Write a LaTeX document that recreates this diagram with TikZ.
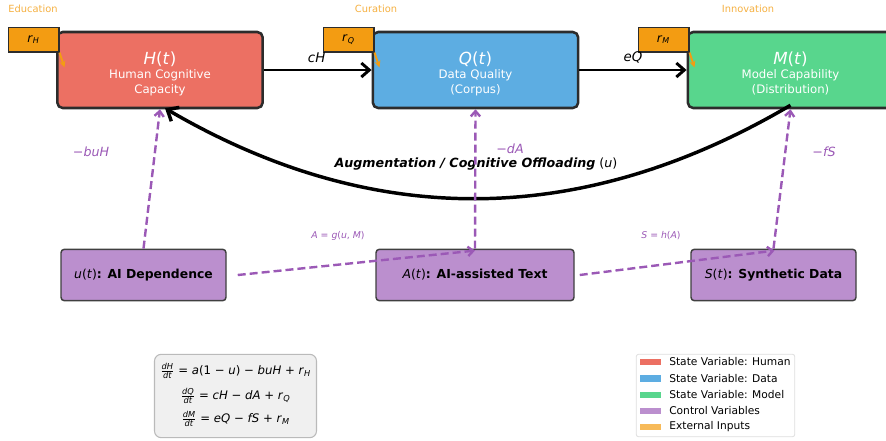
\documentclass[tikz,border=0pt]{standalone}
\usepackage{amsmath}
\usepackage{fontspec}
\setmainfont{DejaVu Sans}
\usetikzlibrary{arrows.meta,calc}
\definecolor{hcol}{HTML}{EC7063}
\definecolor{qcol}{HTML}{5DADE2}
\definecolor{mcol}{HTML}{58D68D}
\definecolor{ccol}{HTML}{BB8FCE}
\definecolor{ocol}{HTML}{F39C12}
\definecolor{olight}{HTML}{F7BA59}
\definecolor{otext}{HTML}{F5B041}
\definecolor{pcol}{HTML}{9B59B6}
\definecolor{edge}{HTML}{2C2C2C}
\newcommand{\mi}[1]{\textit{#1}}
\begin{document}
\begin{tikzpicture}[x=0.75pt,y=-0.75pt,
  statebox/.style={draw=edge,line width=1.9pt,rounded corners=4pt,minimum width=154pt,minimum height=57pt,inner sep=0pt},
  rbox/.style={draw=edge,line width=1pt,fill=ocol,minimum width=38pt,minimum height=18.5pt,inner sep=0pt,font=\fontsize{9}{10}\selectfont},
  ctrlbox/.style={draw=black!75,line width=1.1pt,rounded corners=2.5pt,fill=ccol,minimum height=38.5pt,inner sep=0pt,font=\fontsize{9.3}{11}\selectfont},
  titletxt/.style={text=white,font=\fontsize{12.5}{14}\selectfont,inner sep=0pt},
  subtxt/.style={text=white,font=\fontsize{8.8}{11.2}\selectfont,align=center,inner sep=0pt},
  inlbl/.style={text=otext,font=\fontsize{7.4}{8}\selectfont,inner sep=0pt},
  flow/.style={line width=2.2pt,-{Straight Barb[length=6pt,width=10.5pt]}},
  ctrl/.style={pcol,line width=1.8pt,dash pattern=on 6pt off 3pt,-{Straight Barb[length=4pt,width=7pt]}},
  plbl/.style={text=pcol,font=\fontsize{9.5}{11}\selectfont,inner sep=0pt},
  slbl/.style={text=pcol,font=\fontsize{7}{8}\selectfont,inner sep=0pt},
  inarr/.style={ocol,line width=1.5pt,-{Stealth[length=5pt,width=4.5pt]}},
  legpatch/.style={minimum width=15.5pt,minimum height=4.8pt,inner sep=0pt},
  legtxt/.style={anchor=west,font=\fontsize{8}{9}\selectfont,inner sep=0pt}
]
\useasboundingbox (0,0) rectangle (886,440);
\clip (0,0) rectangle (886,440);

% state boxes
\node[statebox,fill=hcol] (H) at (160,70) {};
\node[statebox,fill=qcol] (Q) at (475.5,70) {};
\node[statebox,fill=mcol] (M) at (790.5,70) {};

\node[titletxt] (Ht) at (160,59) {\mi{H}(\mi{t})};
\node[subtxt] (Hs) at (160,82.5) {Human Cognitive\\Capacity};
\node[titletxt] (Qt) at (475.5,59) {\mi{Q}(\mi{t})};
\node[subtxt] (Qs) at (475.5,82.5) {Data Quality\\(Corpus)};
\node[titletxt] (Mt) at (790.5,59) {\mi{M}(\mi{t})};
\node[subtxt] (Ms) at (790.5,82.5) {Model Capability\\(Distribution)};

% external inputs
\node[rbox] (rH) at (33.5,39.5) {\mi{r}$_{\textit{H}}$};
\node[rbox] (rQ) at (348.5,39.5) {\mi{r}$_{\textit{Q}}$};
\node[rbox] (rM) at (663.5,39.5) {\mi{r}$_{\textit{M}}$};
\node[inlbl] (eH) at (33,9) {Education};
\node[inlbl] (eQl) at (376,9) {Curation};
\node[inlbl] (eM) at (748,9) {Innovation};
\draw[inarr] (rH.south east) -- ++(5,15);
\draw[inarr] (rQ.south east) -- ++(5,15);
\draw[inarr] (rM.south east) -- ++(5,15);

% flows
\draw[flow] (H.east) -- (Q.west) node[pos=0.49,above=1pt,font=\fontsize{10}{11}\selectfont] (cH) {\mi{cH}};
\draw[flow] (Q.east) -- (M.west) node[pos=0.5,above=1pt,font=\fontsize{10}{11}\selectfont] (eQ) {\mi{eQ}};

% augmentation curve
\draw[line width=2.6pt,-{Straight Barb[length=7pt,width=12pt]}] ($(M.south)+(0,-4)$) .. controls (580,229) and (372,229) .. ($(H.south)+(5,-1)$);
\node[font=\fontsize{9.5}{11}\selectfont,inner sep=0pt] (aug) at (476,164) {\textbf{\textit{Augmentation / Cognitive Offloading}} (\mi{u})};

% control boxes
\node[ctrlbox,minimum width=123.75pt] (u) at (143.5,275) {\raisebox{2pt}{\mi{u}(\mi{t})\textbf{: AI Dependence}}};
\node[ctrlbox,minimum width=148.5pt] (A) at (475,275) {\raisebox{2pt}{\mi{A}(\mi{t})\textbf{: AI-assisted Text}}};
\node[ctrlbox,minimum width=123.75pt] (S) at (773.5,275) {\raisebox{2pt}{\mi{S}(\mi{t})\textbf{: Synthetic Data}}};

% control arrows
\draw[ctrl] (u.north) -- (H.south);
\draw[ctrl] (A.north) -- (Q.south);
\draw[ctrl] (S.north) -- (M.south);
\draw[ctrl] ($(u.east)+(11,0)$) -- ($(A.north)+(0,2)$);
\draw[ctrl] ($(A.east)+(5,0)$) -- ($(S.north)+(1,2)$);

\node[plbl] (l1) at (91,152) {−\mi{buH}};
\node[plbl] (l2) at (510,149) {−\mi{dA}};
\node[plbl] (l3) at (824,152) {−\mi{fS}};
\node[slbl] (l4) at (338,236) {\mi{A} = \mi{g}(\mi{u}, \mi{M})};
\node[slbl] (l5) at (661,236) {\mi{S} = \mi{h}(\mi{A})};

% equations
\node[draw=black!27,fill=black!6,line width=0.8pt,rounded corners=5pt,minimum width=121.5pt,minimum height=62.5pt,inner sep=0pt] (eqbox) at (235.5,396) {};
\node[font=\fontsize{8.8}{10}\selectfont,inner sep=0pt] (eq1) at (235.5,371) {$\frac{\textit{dH}}{\textit{dt}}$ = \mi{a}(1 − \mi{u}) − \mi{buH} + \mi{r}$_{\textit{H}}$};
\node[font=\fontsize{8.8}{10}\selectfont,inner sep=0pt] (eq2) at (235.5,396) {$\frac{\textit{dQ}}{\textit{dt}}$ = \mi{cH} − \mi{dA} + \mi{r}$_{\textit{Q}}$};
\node[font=\fontsize{8.8}{10}\selectfont,inner sep=0pt] (eq3) at (235.5,419) {$\frac{\textit{dM}}{\textit{dt}}$ = \mi{eQ} − \mi{fS} + \mi{r}$_{\textit{M}}$};

% legend
\node[draw=black!13,fill=white,line width=0.6pt,rounded corners=2pt,minimum width=119pt,minimum height=62pt,inner sep=0pt] (leg) at (715.5,395.5) {};
\node[legpatch,fill=hcol] (p1) at (650.5,362) {};
\node[legpatch,fill=qcol] (p2) at (650.5,378.5) {};
\node[legpatch,fill=mcol] (p3) at (650.5,395) {};
\node[legpatch,fill=ccol] (p4) at (650.5,411) {};
\node[legpatch,fill=olight] (p5) at (650.5,427) {};
\node[legtxt] (t1) at (669,362) {State Variable: Human};
\node[legtxt] (t2) at (669,378.5) {State Variable: Data};
\node[legtxt] (t3) at (669,395) {State Variable: Model};
\node[legtxt] (t4) at (669,411) {Control Variables};
\node[legtxt] (t5) at (669,427) {External Inputs};
\end{tikzpicture}
\end{document}
